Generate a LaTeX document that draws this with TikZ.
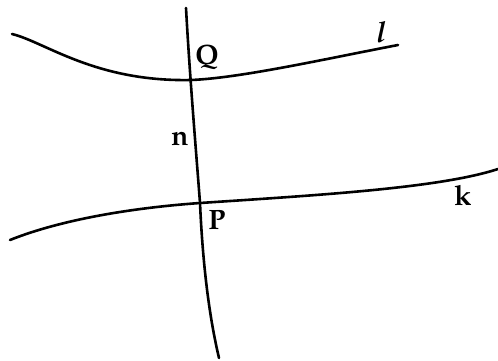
\documentclass[tikz,border=0pt]{standalone}
\usepackage[T1]{fontenc}
\usepackage{mathpazo}
\usetikzlibrary{positioning}
\tikzset{
  curve/.style={line width=2.6pt, draw=black, line cap=round},
  ptlabel/.style={font=\fontsize{28}{30}\selectfont\bfseries, inner sep=0pt},
  linelabel/.style={font=\fontsize{29}{31}\selectfont\bfseries\itshape, inner sep=0pt}
}
\begin{document}
\begin{tikzpicture}[x=1pt,y=-1pt]
    \useasboundingbox (0,0) rectangle (498,360);
    \coordinate (q) at (191,80);
    \coordinate (p) at (200,203);
    % curve l
    \draw[curve] (12,34) .. controls (45,42) and (95,82) .. (q)
      .. controls (240,78) and (320,60) .. (398,45);
    % curve n
    \draw[curve] (186,8) .. controls (190,80) and (196,150) .. (p)
      .. controls (203,270) and (210,320) .. (219,358);
    % curve k
    \draw[curve] (10,240) .. controls (60,220) and (130,208) .. (p)
      .. controls (320,195) and (440,188) .. (498,169);
    \node[ptlabel] (qlabel) at (207,57) {Q};
    \node[ptlabel] (plabel) at (217,220) {P};
    \node[ptlabel] (nlabel) at (180,139) {n};
    \node[ptlabel] (klabel) at (463,196) {k};
    \node[linelabel] (llabel) at (381,32) {l};
  \end{tikzpicture}
\end{document}
